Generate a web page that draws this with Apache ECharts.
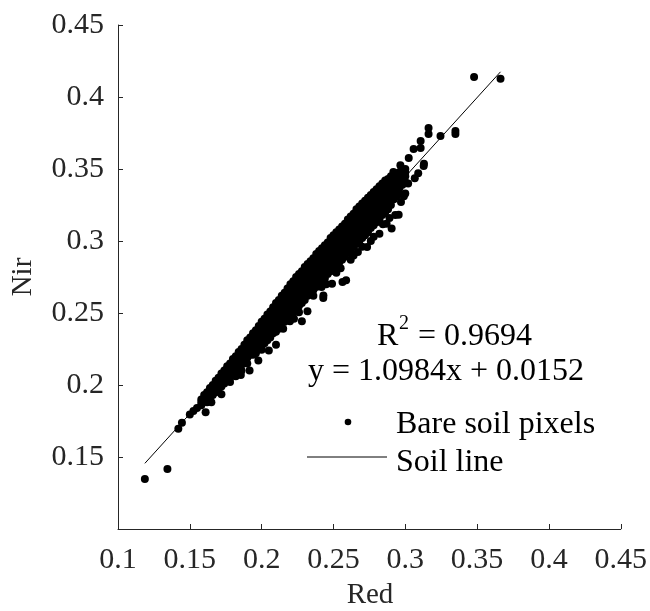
<!DOCTYPE html>
<html>
<head>
<meta charset="utf-8">
<script src="https://cdn.jsdelivr.net/npm/echarts@6/dist/echarts.min.js"></script>
<style>
html,body{margin:0;padding:0;background:#fff;}
#chart{width:650px;height:611px;}
</style>
</head>
<body>
<div id="chart"></div>
<script>
// ---- data ----
const xTickLabels = ['0.1','0.15','0.2','0.25','0.3','0.35','0.4','0.45'];
const yTickLabels = ['','0.15','0.2','0.25','0.3','0.35','0.4','0.45'];

// dense core of the cloud: one Red value per column, several Nir values per column
const denseRed = [0.158,0.160,0.162,0.164,0.166,0.168,0.170,0.172,0.174,0.176,0.178,0.180,0.182,0.184,0.186,0.188,0.190,0.192,0.194,0.196,0.198,0.200,0.202,0.204,0.206,0.208,0.210,0.212,0.214,0.216,0.218,0.220,0.222,0.224,0.226,0.228,0.230,0.232,0.234,0.236,0.238,0.240,0.242,0.244,0.246,0.248,0.250,0.252,0.254,0.256,0.258,0.260,0.262,0.264,0.266,0.268,0.270,0.272,0.274,0.276,0.278,0.280,0.282,0.284,0.286,0.288,0.290,0.292,0.294,0.296,0.298,0.300];
const denseNir = [
 [0.190,0.186],[0.193,0.189],[0.195,0.191,0.188],[0.198,0.193],[0.200,0.196,0.193],
 [0.203,0.199,0.195],[0.205,0.201,0.197],[0.208,0.203,0.199],[0.210,0.206,0.201],[0.213,0.208,0.203],
 [0.215,0.210,0.205],[0.218,0.213,0.207],[0.220,0.215,0.210],[0.223,0.218,0.212],[0.225,0.220,0.214],
 [0.228,0.222,0.216],[0.231,0.225,0.219],[0.233,0.227,0.221],[0.236,0.230,0.224,0.221],[0.238,0.232,0.226],
 [0.241,0.235,0.229,0.225],[0.244,0.238,0.232,0.227],[0.246,0.240,0.234],[0.249,0.243,0.237,0.231],[0.251,0.245,0.239,0.233],
 [0.254,0.247,0.241],[0.257,0.250,0.243,0.237],[0.259,0.252,0.246,0.239],[0.262,0.255,0.248],[0.264,0.257,0.250,0.244],
 [0.267,0.260,0.253,0.246],[0.270,0.263,0.256,0.248],[0.272,0.265,0.258,0.250],[0.275,0.268,0.261,0.253],[0.277,0.270,0.263,0.255],
 [0.279,0.272,0.265,0.257],[0.282,0.275,0.268,0.259],[0.284,0.277,0.270,0.262],[0.286,0.279,0.272,0.264],[0.288,0.281,0.274,0.266],
 [0.291,0.284,0.277,0.268],[0.293,0.286,0.279,0.270],[0.295,0.288,0.281,0.272],[0.297,0.290,0.283,0.274],[0.299,0.292,0.285,0.277],
 [0.302,0.295,0.287,0.279],[0.304,0.297,0.290,0.281],[0.306,0.299,0.292,0.283],[0.308,0.301,0.294,0.285],[0.310,0.303,0.296,0.287],
 [0.312,0.305,0.298,0.289],[0.315,0.308,0.301,0.292],[0.317,0.310,0.303,0.294],[0.319,0.312,0.305,0.296],[0.322,0.314,0.307,0.298],
 [0.324,0.317,0.309,0.300],[0.326,0.319,0.312,0.302],[0.328,0.321,0.314,0.304],[0.330,0.323,0.316,0.306],[0.332,0.325,0.318,0.309],
 [0.334,0.327,0.320,0.311],[0.336,0.329,0.322,0.313],[0.338,0.331,0.324,0.315],[0.340,0.333,0.326,0.318],[0.342,0.335,0.328,0.320],
 [0.343,0.337,0.330,0.322],[0.345,0.338,0.332,0.325],[0.346,0.340,0.334],[0.347,0.341,0.335],[0.348,0.342,0.337],
 [0.349,0.344],[0.350,0.345]
];
// in-between Nir values of the same columns (the core is solid black)
const denseNirFill = [
 [0.188],[0.191],[0.193,0.1895],[0.1955,0.190],[0.198,0.1945],
 [0.201,0.197],[0.203,0.199],[0.2055,0.201],[0.208,0.2035],[0.2105,0.2055],
 [0.2125,0.2075,0.202],[0.2155,0.210],[0.2175,0.2125,0.206],[0.2205,0.215],[0.2225,0.217,0.210],
 [0.225,0.219],[0.228,0.222,0.215],[0.230,0.224],[0.233,0.227],[0.235,0.229,0.222],
 [0.238,0.232],[0.241,0.235,0.2295],[0.243,0.237,0.229],[0.246,0.240,0.234],[0.248,0.242,0.236],
 [0.2505,0.244,0.236],[0.2535,0.2465,0.240],[0.2555,0.249,0.2425],[0.2585,0.2515,0.244],[0.2605,0.2535,0.247],
 [0.2635,0.2565,0.2495],[0.2665,0.2595,0.252],[0.2685,0.2615,0.254],[0.2715,0.2645,0.257],[0.2735,0.2665,0.259],
 [0.2755,0.2685,0.261],[0.2785,0.2715,0.2635],[0.2805,0.2735,0.266],[0.2825,0.2755,0.268],[0.2845,0.2775,0.270],
 [0.2875,0.2805,0.2725],[0.2895,0.2825,0.2745],[0.2915,0.2845,0.2765],[0.2935,0.2865,0.2785],[0.2955,0.2885,0.281],
 [0.2985,0.291,0.283],[0.3005,0.2935,0.2855],[0.3025,0.2955,0.2875],[0.3045,0.2975,0.2895],[0.3065,0.2995,0.2915],
 [0.3085,0.3015,0.2935],[0.3115,0.3045,0.2965],[0.3135,0.3065,0.2985],[0.3155,0.3085,0.3005],[0.318,0.3105,0.3025],
 [0.3205,0.313,0.3045],[0.3225,0.3155,0.307],[0.3245,0.3175,0.309],[0.3265,0.3195,0.311],[0.3285,0.3215,0.3135],
 [0.3305,0.3235,0.3155],[0.3325,0.3255,0.3175],[0.3345,0.3275,0.3195],[0.3365,0.3295,0.322],[0.3385,0.3315,0.324],
 [0.340,0.3335,0.326],[0.3415,0.335,0.3285],[0.343,0.337,0.329],[0.344,0.338,0.331],[0.345,0.3395,0.333],
 [0.3465,0.339],[0.3475,0.341]
];

// scattered pixels outside the dense core
const outlierRed = [0.1187,0.1344,0.142,0.1445,0.150,0.1525,0.155,0.161,0.165,0.172,
 0.1855,0.1916,0.1977,0.205,0.210,0.2197,0.228,0.2319,0.2417,0.243,0.2429,0.249,0.2563,0.2588,0.267,0.2734,0.282,0.2844,0.2905,0.293,0.2954,0.300,
 0.236,0.245,0.252,0.262,0.270,0.278,0.287,0.264,0.255,0.276,0.289,0.297,0.299,0.2225,0.215,0.200,0.226,
 0.2917,0.2966,0.3024,0.3058,0.3107,0.3107,0.3128,0.313,0.309,0.3066,0.302,0.3162,0.3162,0.3245,0.3349,0.3349,0.3479,0.3663];
const outlierNir = [0.1347,0.1417,0.1697,0.1738,0.1795,0.182,0.184,0.181,0.188,0.1935,
 0.207,0.210,0.217,0.224,0.228,0.2443,0.2443,0.2513,0.268,0.2622,0.2605,0.2703,0.2715,0.2727,0.2923,0.2958,0.305,0.3116,0.3086,0.318,0.3182,0.333,
 0.262,0.270,0.278,0.287,0.296,0.303,0.312,0.290,0.281,0.300,0.316,0.327,0.331,0.246,0.239,0.2245,0.2505,
 0.348,0.3526,0.3576,0.3639,0.3694,0.3646,0.3521,0.3537,0.347,0.3435,0.340,0.3785,0.3743,0.3729,0.3764,0.3743,0.4139,0.4127];

// fitted soil line end points
const soilLineRed = [0.1187, 0.3663];
const soilLineNir = [0.1456, 0.4175];

const r2Text = '0.9694';
const eqText = 'y = 1.0984x + 0.0152';
const legendNames = ['Bare soil pixels', 'Soil line'];

// ---- build ----
const pts = [];
denseRed.forEach((x, i) => {
  denseNir[i].forEach(y => pts.push([x, y]));
  denseNirFill[i].forEach(y => pts.push([x, y]));
});
outlierRed.forEach((x, i) => pts.push([x, outlierNir[i]]));
const linePts = soilLineRed.map((x, i) => [x, soilLineNir[i]]);

const FONT = "'Liberation Serif','Times New Roman',serif";
const AX = '#262626';
const tickIdx = v => Math.round((v - 0.1) / 0.05);

const chart = echarts.init(document.getElementById('chart'));
chart.setOption({
  animation: false,
  backgroundColor: '#fff',
  grid: {left: 118, right: 26, top: 25, bottom: 82, containLabel: false},
  xAxis: {
    type: 'value', min: 0.1, max: 0.45, interval: 0.05,
    axisLine: {show: true, lineStyle: {color: AX, width: 1}},
    axisTick: {show: true, inside: true, length: 5, lineStyle: {color: AX}},
    splitLine: {show: false},
    axisLabel: {margin: 16, color: AX, fontFamily: FONT, fontSize: 30,
      formatter: v => xTickLabels[tickIdx(v)] || ''}
  },
  yAxis: {
    type: 'value', min: 0.1, max: 0.45, interval: 0.05,
    axisLine: {show: true, lineStyle: {color: AX, width: 1}},
    axisTick: {show: true, inside: true, length: 5, lineStyle: {color: AX}},
    splitLine: {show: false},
    axisLabel: {margin: 14, color: AX, fontFamily: FONT, fontSize: 30,
      formatter: v => yTickLabels[tickIdx(v)] || ''}
  },
  series: [
    {type: 'line', data: linePts, showSymbol: false, symbol: 'none',
     lineStyle: {color: '#000', width: 1}, z: 2, silent: true},
    {type: 'scatter', data: pts, symbol: 'circle', symbolSize: 8,
     itemStyle: {color: '#000', opacity: 1}, z: 3, silent: true}
  ],
  graphic: [
    {type: 'text', x: 370, y: 595,
     style: {text: 'Red', font: '29px ' + FONT, fill: AX, textAlign: 'center', textVerticalAlign: 'middle'}},
    {type: 'text', x: 23, y: 277, rotation: Math.PI / 2,
     style: {text: 'Nir', font: '29px ' + FONT, fill: AX, textAlign: 'center', textVerticalAlign: 'middle'}},
    {type: 'text', x: 377, y: 337,
     style: {text: 'R', font: '32px ' + FONT, fill: '#000', textVerticalAlign: 'middle'}},
    {type: 'text', x: 399, y: 314,
     style: {text: '2', font: '20px ' + FONT, fill: '#000', textVerticalAlign: 'top'}},
    {type: 'text', x: 410, y: 337,
     style: {text: ' = ' + r2Text, font: '32px ' + FONT, fill: '#000', textVerticalAlign: 'middle'}},
    {type: 'text', x: 308, y: 372,
     style: {text: eqText, font: '32px ' + FONT, fill: '#000', textVerticalAlign: 'middle'}},
    {type: 'circle', shape: {cx: 348, cy: 422, r: 3.3}, style: {fill: '#000'}},
    {type: 'text', x: 396, y: 425,
     style: {text: legendNames[0], font: '32px ' + FONT, fill: '#000', textVerticalAlign: 'middle'}},
    {type: 'line', shape: {x1: 307, y1: 457, x2: 387, y2: 457}, style: {stroke: '#000', lineWidth: 1}},
    {type: 'text', x: 396, y: 463,
     style: {text: legendNames[1], font: '32px ' + FONT, fill: '#000', textVerticalAlign: 'middle'}}
  ]
});
</script>
</body>
</html>
